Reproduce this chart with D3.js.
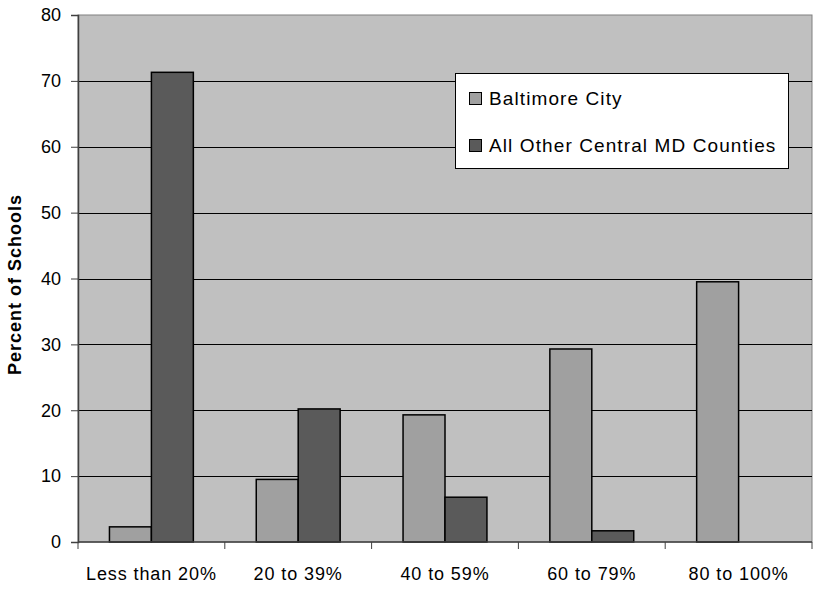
<!DOCTYPE html>
<html>
<head>
<meta charset="utf-8">
<script src="https://cdn.jsdelivr.net/npm/d3@7/dist/d3.min.js"></script>
<style>
  html, body { margin: 0; padding: 0; background: #fff; }
  svg { display: block; font-family: "Liberation Sans", Arial, sans-serif; }
</style>
</head>
<body>
<svg id="chart" width="816" height="590"></svg>
<script>
const categories = ["Less than 20%", "20 to 39%", "40 to 59%", "60 to 79%", "80 to 100%"];
const seriesNames = ["Baltimore City", "All Other Central MD Counties"];
const baltimoreCity = [2.3, 9.5, 19.3, 29.3, 39.5];
const otherCounties = [71.3, 20.2, 6.8, 1.7, 0];
const yTicks = [0, 10, 20, 30, 40, 50, 60, 70, 80];
const colors = ["#A0A0A0", "#5A5A5A"];

const svg = d3.select("#chart");
const margin = { left: 78, right: 4, top: 15, bottom: 48 };
const W = 816, H = 590;
const x0 = margin.left, x1 = W - margin.right;
const yTop = margin.top, yBot = H - margin.bottom;

const x = d3.scaleBand().domain(categories).range([x0, x1]).paddingInner(0).paddingOuter(0);
const y = d3.scaleLinear().domain([0, 80]).range([yBot, yTop]);
// gap width 150% -> bars take 2/(2+1.5) of band
const barW = x.bandwidth() / 3.5;
const xs = d3.scaleBand().domain([0, 1]).range([0, barW * 2]);

// plot area background
svg.append("rect").attr("x", x0).attr("y", yTop).attr("width", x1 - x0).attr("height", yBot - yTop)
  .attr("fill", "#C0C0C0").attr("stroke", "#808080").attr("stroke-width", 1);

// gridlines
svg.append("g").selectAll("line").data(yTicks.filter(t => t > 0 && t < 80)).join("line")
  .attr("x1", x0).attr("x2", x1)
  .attr("y1", d => Math.round(y(d)) + 0.5).attr("y2", d => Math.round(y(d)) + 0.5)
  .attr("stroke", "#000").attr("stroke-width", 1);

// bars
const data = categories.map((c, i) => ({ c, vals: [baltimoreCity[i], otherCounties[i]] }));
const groups = svg.append("g").selectAll("g").data(data).join("g")
  .attr("transform", d => `translate(${x(d.c) + (x.bandwidth() - barW * 2) / 2},0)`);
groups.selectAll("rect").data(d => d.vals.map((v, k) => ({ v, k })).filter(e => e.v > 0)).join("rect")
  .attr("x", e => xs(e.k))
  .attr("width", xs.bandwidth())
  .attr("y", e => y(e.v))
  .attr("height", e => yBot - y(e.v))
  .attr("fill", e => colors[e.k])
  .attr("stroke", "#000").attr("stroke-width", 1.5);

// y axis
const yAxis = d3.axisLeft(y).tickValues(yTicks).tickSize(7).tickPadding(10).tickFormat(d3.format("d"));
const gy = svg.append("g").attr("transform", `translate(${x0},0)`).call(yAxis);
gy.select(".domain").attr("stroke", "#404040").attr("stroke-width", 1.5);
gy.selectAll(".tick line").attr("stroke", "#404040");
gy.selectAll("text").attr("font-size", 18).attr("fill", "#000").attr("font-family", "Liberation Sans, Arial, sans-serif");

// x axis (ticks at category boundaries)
const xAxisLine = svg.append("g");
xAxisLine.append("line").attr("x1", x0).attr("x2", x1).attr("y1", yBot).attr("y2", yBot)
  .attr("stroke", "#404040").attr("stroke-width", 1.5);
const boundaries = categories.map(c => x(c)).concat([x1]);
xAxisLine.selectAll("line.tk").data(boundaries).join("line").attr("class", "tk")
  .attr("x1", d => d).attr("x2", d => d).attr("y1", yBot).attr("y2", yBot + 7)
  .attr("stroke", "#404040").attr("stroke-width", 1);
svg.append("g").selectAll("text").data(categories).join("text")
  .attr("x", d => x(d) + x.bandwidth() / 2)
  .attr("y", 580)
  .attr("text-anchor", "middle")
  .attr("font-size", 18)
  .attr("letter-spacing", "0.9px")
  .text(d => d);

// y label
svg.append("text")
  .attr("transform", `translate(21,${(yTop + yBot) / 2 + 6}) rotate(-90)`)
  .attr("text-anchor", "middle")
  .attr("font-size", 18).attr("font-weight", "bold")
  .attr("letter-spacing", "1px")
  .text("Percent of Schools");

// legend
const lg = svg.append("g");
lg.append("rect").attr("x", 455.5).attr("y", 73.5).attr("width", 333).attr("height", 95)
  .attr("fill", "#fff").attr("stroke", "#000").attr("stroke-width", 1);
seriesNames.forEach((name, k) => {
  const yy = 92 + k * 47;
  lg.append("rect").attr("x", 469.5).attr("y", yy + 0.5).attr("width", 12).attr("height", 12)
    .attr("fill", colors[k]).attr("stroke", "#000").attr("stroke-width", 1);
  lg.append("text").attr("x", 489).attr("y", yy + 12.5)
    .attr("font-size", 19).attr("letter-spacing", "1.1px")
    .text(name);
});
</script>
</body>
</html>
